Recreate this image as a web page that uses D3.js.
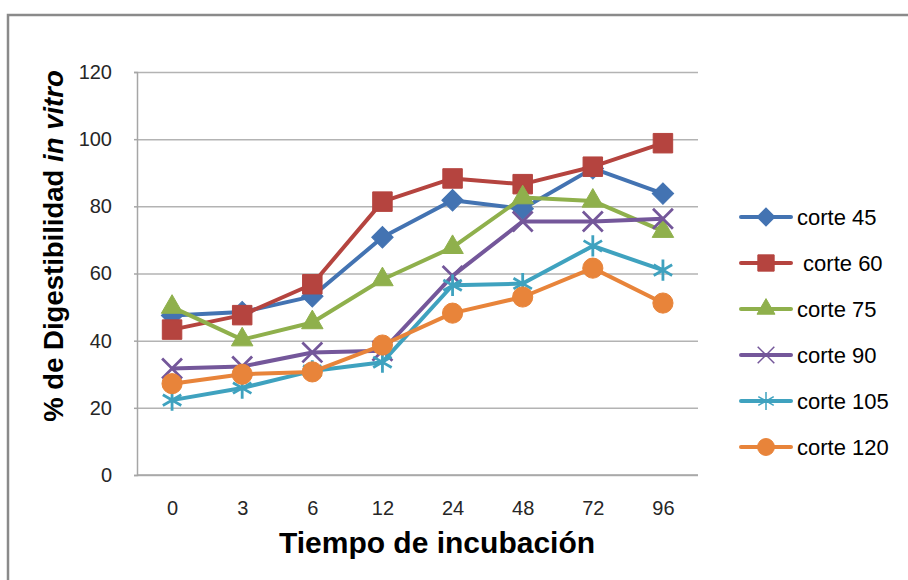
<!DOCTYPE html>
<html>
<head>
<meta charset="utf-8">
<script src="https://cdn.jsdelivr.net/npm/d3@7"></script>
<style>
  body { margin: 0; background: #fff; }
  svg { display: block; font-family: "Liberation Sans", Arial, sans-serif; }
</style>
</head>
<body>
<div id="chart"></div>
<script>
"use strict"

/*** DATA ***/
let tiempos = ["0", "3", "6", "12", "24", "48", "72", "96"]
let yTicks = [0, 20, 40, 60, 80, 100, 120]
let serieNames = ["corte 45", " corte 60", "corte 75", "corte 90", "corte 105", "corte 120"]
let corte45 = [47.5, 48.5, 53.2, 70.8, 81.8, 79.3, 91.3, 83.8]
let corte60 = [43.3, 47.6, 56.8, 81.4, 88.3, 86.6, 91.8, 98.8]
let corte75 = [50.0, 40.3, 45.4, 58.2, 67.8, 82.6, 81.6, 72.6]
let corte90 = [31.7, 32.3, 36.5, 37.0, 59.3, 75.5, 75.5, 76.3]
let corte105 = [22.3, 25.9, 31.0, 33.6, 56.5, 57.0, 68.2, 61.0]
let corte120 = [27.2, 30.0, 30.7, 38.7, 48.2, 53.0, 61.6, 51.2]

let series = [corte45, corte60, corte75, corte90, corte105, corte120]

/*** CANVAS SETUP ***/
let svgWidth = 908
let svgHeight = 580

let margin = { top: 72, right: 210, bottom: 105, left: 137 }
let plotRight = svgWidth - margin.right      // 698
let plotBottom = svgHeight - margin.bottom   // 475

let colors = ["#4373B2", "#B5443F", "#8FB04C", "#74579A", "#3FA2BF", "#E8843A"]

// marker per series: symbol type, area, filled or stroked, rotation
let markers = [
    { type: d3.symbolSquare, size: 230, fill: true, rotate: 45 },   // diamond
    { type: d3.symbolSquare, size: 380, fill: true, rotate: 0 },
    { type: d3.symbolTriangle, size: 200, fill: true, rotate: 0 },
    { type: d3.symbolTimes, size: 260, fill: false, rotate: 0 },
    { type: d3.symbolAsterisk, size: 320, fill: false, rotate: 0 },
    { type: d3.symbolCircle, size: 320, fill: true, rotate: 0 }
]

let svg = d3.select("#chart")
    .append("svg")
    .attr("width", svgWidth)
    .attr("height", svgHeight)

/* outer chart frame, runs off the right and bottom edges */
svg.append("rect")
    .attr("x", 8)
    .attr("y", 15)
    .attr("width", 960)
    .attr("height", 640)
    .attr("fill", "none")
    .attr("stroke", "#8a8a8a")
    .attr("stroke-width", 2.5)

/*** SCALES ***/
let xScale = d3.scalePoint()
    .domain(tiempos)
    .range([margin.left, plotRight])
    .padding(0.5)

let yScale = d3.scaleLinear()
    .domain([0, 120])
    .range([plotBottom, margin.top])

/*** GRID + AXES ***/
let grid = svg.append("g")
    .attr("transform", "translate(" + margin.left + ",0)")
    .call(d3.axisLeft(yScale).tickValues(yTicks).tickSize(-(plotRight - margin.left)).tickFormat(""))
grid.select(".domain").remove()
grid.selectAll("line").attr("stroke", "#b3b3b3").attr("stroke-width", 1.5)

let yAxis = svg.append("g")
    .attr("transform", "translate(" + margin.left + ",0)")
    .call(d3.axisLeft(yScale).tickValues(yTicks).tickSize(3).tickPadding(22))
yAxis.select(".domain").attr("stroke", "#a6a6a6").attr("stroke-width", 1.5)
yAxis.selectAll("line").attr("stroke", "#a6a6a6").attr("stroke-width", 1.5)
yAxis.selectAll("text")
    .attr("font-size", "20px")
    .attr("fill", "#262626")
    .attr("font-family", "Liberation Sans, Arial, sans-serif")

let xAxis = svg.append("g")
    .attr("transform", "translate(0," + plotBottom + ")")
    .call(d3.axisBottom(xScale).tickSize(0).tickPadding(26))
xAxis.select(".domain").remove()
xAxis.selectAll("text")
    .attr("font-size", "20px")
    .attr("fill", "#262626")
    .attr("font-family", "Liberation Sans, Arial, sans-serif")

/* bottom line of the plot */
svg.append("line")
    .attr("x1", margin.left)
    .attr("x2", plotRight)
    .attr("y1", plotBottom)
    .attr("y2", plotBottom)
    .attr("stroke", "#a6a6a6")
    .attr("stroke-width", 1.5)

/*** AXIS TITLES ***/
svg.append("text")
    .attr("x", 437)
    .attr("y", 553)
    .attr("text-anchor", "middle")
    .attr("font-size", "30px")
    .attr("font-weight", "bold")
    .attr("fill", "#000")
    .text("Tiempo de incubación")

let yTitle = svg.append("text")
    .attr("transform", "translate(63,246) rotate(-90)")
    .attr("text-anchor", "middle")
    .attr("font-size", "27.5px")
    .attr("font-weight", "bold")
    .attr("fill", "#000")
yTitle.append("tspan").text("% de Digestibilidad ")
yTitle.append("tspan").attr("font-style", "italic").text("in vitro")

/*** SERIES ***/
let line = d3.line()
    .x(function (d, i) { return xScale(tiempos[i]) })
    .y(function (d) { return yScale(d) })

function symbolPath(m, scale) {
    return d3.symbol().type(m.type).size(m.size * scale)()
}

series.forEach(function (values, s) {
    let g = svg.append("g")
    g.append("path")
        .attr("d", line(values))
        .attr("fill", "none")
        .attr("stroke", colors[s])
        .attr("stroke-width", 4)
        .attr("stroke-linejoin", "round")

    g.selectAll("path.marker")
        .data(values)
        .join("path")
        .attr("class", "marker")
        .attr("d", symbolPath(markers[s], 1))
        .attr("transform", function (d, i) {
            return "translate(" + xScale(tiempos[i]) + "," + yScale(d) + ") rotate(" + markers[s].rotate + ")"
        })
        .attr("fill", markers[s].fill ? colors[s] : "none")
        .attr("stroke", colors[s])
        .attr("stroke-width", markers[s].fill ? 1 : 2.8)
})

/*** LEGEND ***/
let legendX = 741
let legendY = 217
let legendStep = 46

let legend = svg.append("g")

serieNames.forEach(function (name, s) {
    let y = legendY + s * legendStep
    legend.append("line")
        .attr("x1", legendX)
        .attr("x2", legendX + 50)
        .attr("y1", y)
        .attr("y2", y)
        .attr("stroke", colors[s])
        .attr("stroke-width", 4)
        .attr("stroke-linecap", "round")

    legend.append("path")
        .attr("d", symbolPath(markers[s], 0.7))
        .attr("transform", "translate(" + (legendX + 25) + "," + y + ") rotate(" + markers[s].rotate + ")")
        .attr("fill", markers[s].fill ? colors[s] : "none")
        .attr("stroke", colors[s])
        .attr("stroke-width", markers[s].fill ? 1 : 1.5)

    legend.append("text")
        .attr("x", legendX + 56)
        .attr("y", y)
        .attr("dy", "0.36em")
        .attr("font-size", "22px")
        .attr("fill", "#000")
        .style("white-space", "pre")
        .text(name)
})
</script>
</body>
</html>
